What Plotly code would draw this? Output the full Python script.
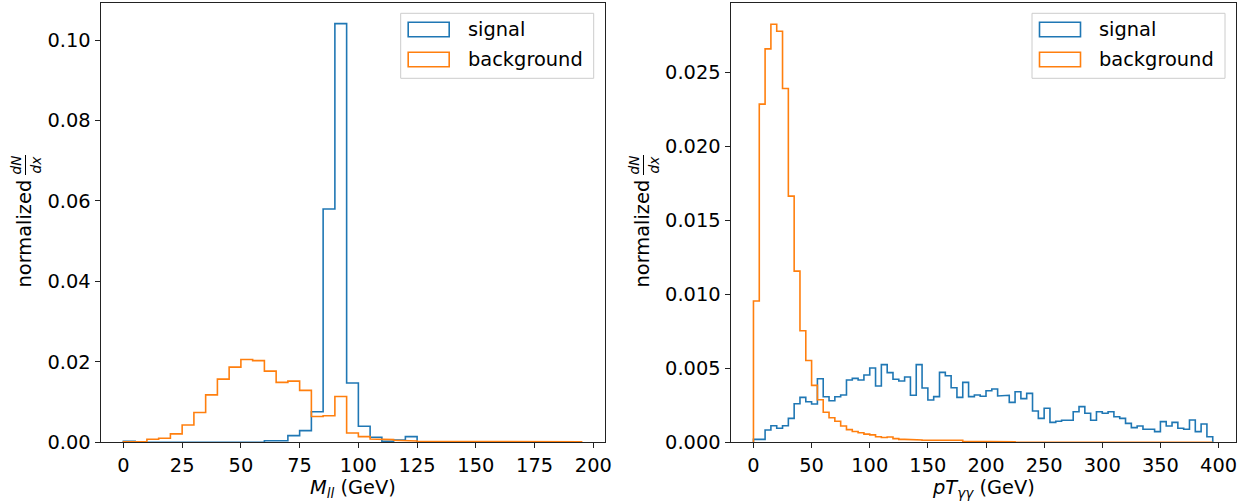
import numpy as np
import plotly.graph_objects as go

# ---------------- data ----------------
# Left panel: M_ll, bins of width 5 GeV from 0 to 195
mll_edges = list(range(0, 200, 5))  # 0..195 -> 39 bins
mll_signal = [
    0.00025, 0, 0, 0, 0, 0, 0, 0, 0, 0.0001,
    0.0001, 0, 0.0004, 0.0004, 0.00166, 0.0029, 0.0076, 0.058, 0.1041, 0.01476,
    0.004, 0.00124, 0.00025, 0.00058, 0.0014, 0.0001, 0, 0, 0, 0,
    0, 0, 0, 0, 0, 0, 0, 0, 0,
]
mll_background = [
    0.0001, 0.0001, 0.00075, 0.001, 0.0021, 0.0043, 0.0074, 0.0118, 0.0157, 0.0187,
    0.0206, 0.0203, 0.0177, 0.0149, 0.0152, 0.0129, 0.0064, 0.0066, 0.0114, 0.0023,
    0.0014, 0.0008, 0.00066, 0.0005, 0.00033, 0.00025, 0.00025, 0.00025, 0.00025, 0.00025,
    0.0001, 0.0001, 0.0001, 0.0001, 0.0001, 0.0001, 0.0001, 0.0001, 0.0001,
]

# Right panel: pT_yy, bins of width 5 GeV from 0 to 395
pt_edges = list(range(0, 400, 5))  # 0..395 -> 79 bins
pt_signal = [
    0.0002, 0.0002, 0.00083, 0.00112, 0.00095, 0.00112, 0.00162, 0.00261, 0.00304, 0.00274,
    0.00259, 0.0043, 0.00308, 0.00281, 0.00308, 0.0032, 0.00421, 0.00432, 0.00421, 0.00455,
    0.00502, 0.00381, 0.00525, 0.00471, 0.00426, 0.00414, 0.00441, 0.00318, 0.00525, 0.00367,
    0.00286, 0.00309, 0.00473, 0.0045, 0.00369, 0.00304, 0.00405, 0.00309, 0.0032, 0.00311,
    0.00349, 0.0036, 0.00313, 0.00318, 0.0027, 0.00342, 0.00295, 0.00331, 0.00212, 0.00162,
    0.0023, 0.00135, 0.00142, 0.00149, 0.00149, 0.00207, 0.00241, 0.00196, 0.00149, 0.00207,
    0.00196, 0.00207, 0.00173, 0.00162, 0.00128, 0.00099, 0.0011, 0.00088, 0.00088, 0.00072,
    0.0014, 0.0011, 0.00135, 0.00095, 0.00088, 0.00151, 0.00072, 0.00124, 0.00038,
]
pt_background = [
    0.00955, 0.02286, 0.0266, 0.02826, 0.02779, 0.02392, 0.01664, 0.01157, 0.00754, 0.00553,
    0.00385, 0.00288, 0.00203, 0.00166, 0.00142, 0.0011, 0.00086, 0.00073, 0.00065, 0.00055,
    0.0005, 0.00038, 0.00032, 0.00036, 0.00025, 0.0002, 0.0002, 0.00018, 0.00016, 0.00014,
    0.0001, 0.0001, 0.00014, 0.00011, 0.00011, 0.00014, 0.00007, 0.00007, 0.00005, 0.00005,
    0.00007, 0.00005, 0.00004, 0.00004, 0.00004, 0.0, 0.0, 0.0, 0.0, 0.0,
    0.00004, 0.0, 0.0, 0.0, 0.0, 0.0, 0.0, 0.0, 0.0, 0.0,
    0.0, 0.0, 0.0, 0.0, 0.0, 0.0, 0.0, 0.0, 0.0, 0.0,
    0.0, 0.0, 0.0, 0.0, 0.0, 0.0, 0.0, 0.0, 0.0,
]

series_names = ["signal", "background"]
colors = ["#1f77b4", "#ff7f0e"]
mll_ticks = [0, 25, 50, 75, 100, 125, 150, 175, 200]
pt_ticks = [0, 50, 100, 150, 200, 250, 300, 350, 400]
mll_yticks = [0.0, 0.02, 0.04, 0.06, 0.08, 0.10]
pt_yticks = [0.0, 0.005, 0.010, 0.015, 0.020, 0.025]
x_titles = ["<i>M<sub>ll</sub></i> (GeV)", "<i>pT<sub>γγ</sub></i> (GeV)"]
y_title_word = "normalized"
y_title_num = "dN"
y_title_den = "dx"

# ---------------- helpers ----------------
W, H = 1246, 501
FONT = "DejaVu Sans"
FS = 19.4
FS_FRAC = 13.6


def fx(p):
    return p / W


def fy(p):
    return 1 - p / H


def step_xy(left_edges, vals):
    width = left_edges[1] - left_edges[0]
    edges = np.array(list(left_edges) + [left_edges[-1] + width], dtype=float)
    xs = np.repeat(edges, 2)
    ys = np.concatenate([[0.0], np.repeat(np.array(vals, dtype=float), 2), [0.0]])
    return xs, ys


fig = go.Figure()

panels = [
    (mll_edges, [mll_signal, mll_background], "x", "y"),
    (pt_edges, [pt_signal, pt_background], "x2", "y2"),
]
for edges, series, xa, ya in panels:
    for name, vals, col in zip(series_names, series, colors):
        xs, ys = step_xy(edges, vals)
        fig.add_trace(go.Scatter(
            x=xs, y=ys, mode="lines", name=name, showlegend=False,
            line=dict(color=col, width=1.6), xaxis=xa, yaxis=ya,
            hoverinfo="skip",
        ))

axis_common = dict(
    showgrid=False, zeroline=False, showline=True, mirror=True,
    linecolor="#222222", linewidth=1, ticks="outside", ticklen=5,
    tickwidth=1, tickcolor="#222222", automargin=False,
    tickfont=dict(family=FONT, size=FS, color="black"),
)

fig.update_layout(
    template="none",
    width=W, height=H,
    margin=dict(l=0, r=0, t=0, b=0),
    paper_bgcolor="white", plot_bgcolor="white",
    font=dict(family=FONT, size=FS, color="black"),
    showlegend=False,
    xaxis=dict(domain=[fx(100.5), fx(604.5)], range=[-9.75, 204.75],
               tickvals=mll_ticks, anchor="y", **axis_common),
    yaxis=dict(domain=[fy(442.3), fy(2.7)], range=[0, 0.1093],
               tickvals=mll_yticks, tickformat=".2f", anchor="x",
               **axis_common),
    xaxis2=dict(domain=[fx(730.5), fx(1235.7)], range=[-19.75, 414.75],
                tickvals=pt_ticks, anchor="y2", **axis_common),
    yaxis2=dict(domain=[fy(442.3), fy(2.7)], range=[0, 0.02972],
                tickvals=pt_yticks, tickformat=".3f", anchor="x2",
                **axis_common),
)

shapes = []
annotations = []

# ---------------- axis titles ----------------
for (xl, xr), title in zip([(100.5, 604.5), (730.5, 1235.7)], x_titles):
    annotations.append(dict(
        text=title, xref="paper", yref="paper",
        x=fx((xl + xr) / 2), y=fy(488), xanchor="center", yanchor="middle",
        showarrow=False, borderpad=0,
        font=dict(family=FONT, size=FS, color="black"),
    ))

for cx in (23.5, 641.5):
    annotations.append(dict(
        text=y_title_word, textangle=-90, xref="paper", yref="paper",
        x=fx(cx), y=fy(234), xanchor="center", yanchor="middle",
        showarrow=False, font=dict(family=FONT, size=FS, color="black"),
    ))
    bar_x = cx + 2
    annotations.append(dict(
        text="<i>%s</i>" % y_title_num, textangle=-90, xref="paper", yref="paper",
        x=fx(bar_x - 1), y=fy(165), xanchor="right", yanchor="middle",
        showarrow=False, borderpad=0,
        font=dict(family=FONT, size=FS_FRAC, color="black"),
    ))
    annotations.append(dict(
        text="<i>%s</i>" % y_title_den, textangle=-90, xref="paper", yref="paper",
        x=fx(bar_x + 1), y=fy(165), xanchor="left", yanchor="middle",
        showarrow=False, borderpad=0,
        font=dict(family=FONT, size=FS_FRAC, color="black"),
    ))
    shapes.append(dict(
        type="line", xref="paper", yref="paper",
        x0=fx(bar_x), x1=fx(bar_x), y0=fy(155), y1=fy(175),
        line=dict(color="black", width=1),
    ))

# ---------------- legends (matplotlib-style boxes) ----------------
for right_px in (593.7, 1225.0):
    left_px = right_px - 193
    shapes.append(dict(
        type="rect", xref="paper", yref="paper",
        x0=fx(left_px), x1=fx(right_px), y0=fy(78.3), y1=fy(13.3),
        line=dict(color="#cccccc", width=1), fillcolor="rgba(255,255,255,0.8)",
        layer="above",
    ))
    for i, (name, col) in enumerate(zip(series_names, colors)):
        cy = 29.5 + 30 * i
        shapes.append(dict(
            type="rect", xref="paper", yref="paper",
            x0=fx(left_px + 7.5), x1=fx(left_px + 48.5),
            y0=fy(cy + 7.2), y1=fy(cy - 7.2),
            line=dict(color=col, width=1.6), fillcolor="rgba(0,0,0,0)",
            layer="above",
        ))
        annotations.append(dict(
            text=name, xref="paper", yref="paper",
            x=fx(left_px + 65), y=fy(cy), xanchor="left", yanchor="middle",
            showarrow=False, font=dict(family=FONT, size=FS, color="black"),
        ))

fig.update_layout(shapes=shapes, annotations=annotations)

fig.write_html("out.html")
